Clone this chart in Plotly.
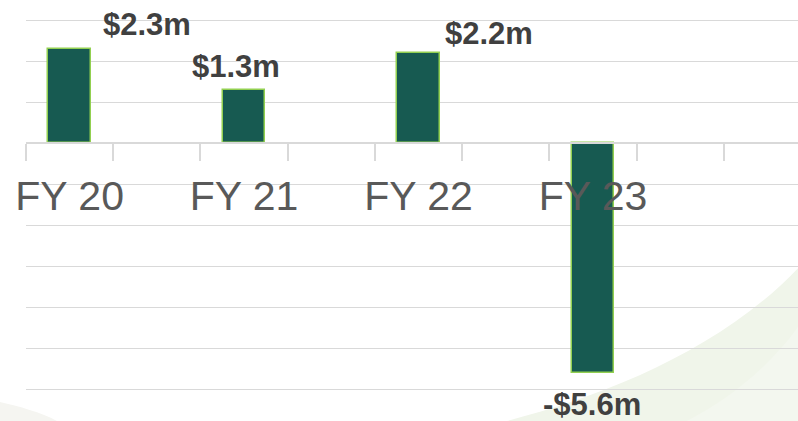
import plotly.graph_objects as go

# ---- data ----
categories = ["FY 20", "FY 21", "FY 22", "FY 23"]
cat_pos = [0, 2, 4, 6]          # every other slot on the axis
values = [2.3, 1.3, 2.2, -5.6]  # $m
value_labels = ["$2.3m", "$1.3m", "$2.2m", "-$5.6m"]

# ---- styles ----
label_shift_x = [77, -8, 70, -1]
label_shift_y = [24, 23, 19, -32]
FONT = "Arial, 'Liberation Sans', sans-serif"
GRID = "#d9d9d9"

y_min, y_max = -6.78, 3.49
zero_pos = (0 - y_min) / (y_max - y_min)

fig = go.Figure()
fig.add_trace(go.Bar(
    x=cat_pos, y=values, width=0.49,
    marker=dict(color="#175a51", line=dict(color="#92d050", width=1.5)),
    hoverinfo="skip", showlegend=False,
))

for x, v, t, sx, sy in zip(cat_pos, values, value_labels, label_shift_x, label_shift_y):
    fig.add_annotation(
        x=x, y=v, text=f"<b>{t}</b>", showarrow=False,
        xshift=sx, yshift=sy, xanchor="center", yanchor="middle",
        font=dict(family=FONT, size=31, color="#404040"),
    )

# decorative background swooshes
fig.add_shape(type="path", xref="paper", yref="paper", layer="below",
              path="M 0.623,0 C 0.75,0.06 0.9,0.17 1.0,0.363 L 1.0,0 Z",
              fillcolor="#f0f5ea", line=dict(width=0))
fig.add_shape(type="path", xref="paper", yref="paper", layer="below",
              path="M 0.856,0 C 0.9,0.04 0.96,0.12 1.0,0.223 L 1.0,0 Z",
              fillcolor="#f3f7ef", line=dict(width=0))
fig.add_shape(type="path", xref="paper", yref="paper", layer="below",
              path="M -0.034,0.045 C -0.01,0.035 0.02,0.02 0.04,0 L -0.034,0 Z",
              fillcolor="#f5f5f1", line=dict(width=0))

fig.update_layout(
    width=798, height=421,
    margin=dict(l=26, r=0, t=0, b=0),
    paper_bgcolor="white", plot_bgcolor="white",
    bargap=0,
    xaxis=dict(
        range=[-0.5, 8.35],
        anchor="free", position=zero_pos,
        tickmode="array", tickvals=cat_pos, ticktext=categories,
        ticks="outside", ticklen=17, tickcolor="rgba(0,0,0,0)",
        tickfont=dict(family=FONT, size=41, color="#595959"),
        showline=True, linecolor=GRID, linewidth=2,
        showgrid=False, zeroline=False,
        minor=dict(tickmode="linear", tick0=-0.5, dtick=1, ticks="outside",
                   ticklen=17, tickcolor=GRID, tickwidth=2, showgrid=False),
    ),
    yaxis=dict(
        range=[y_min, y_max], dtick=1, tick0=0,
        showticklabels=False, showgrid=True, gridcolor=GRID, gridwidth=1.3,
        zeroline=False, showline=False,
    ),
)

fig.write_html("out.html", config={"displayModeBar": False},
               post_script="document.body.style.margin='0';document.body.style.padding='0';")
